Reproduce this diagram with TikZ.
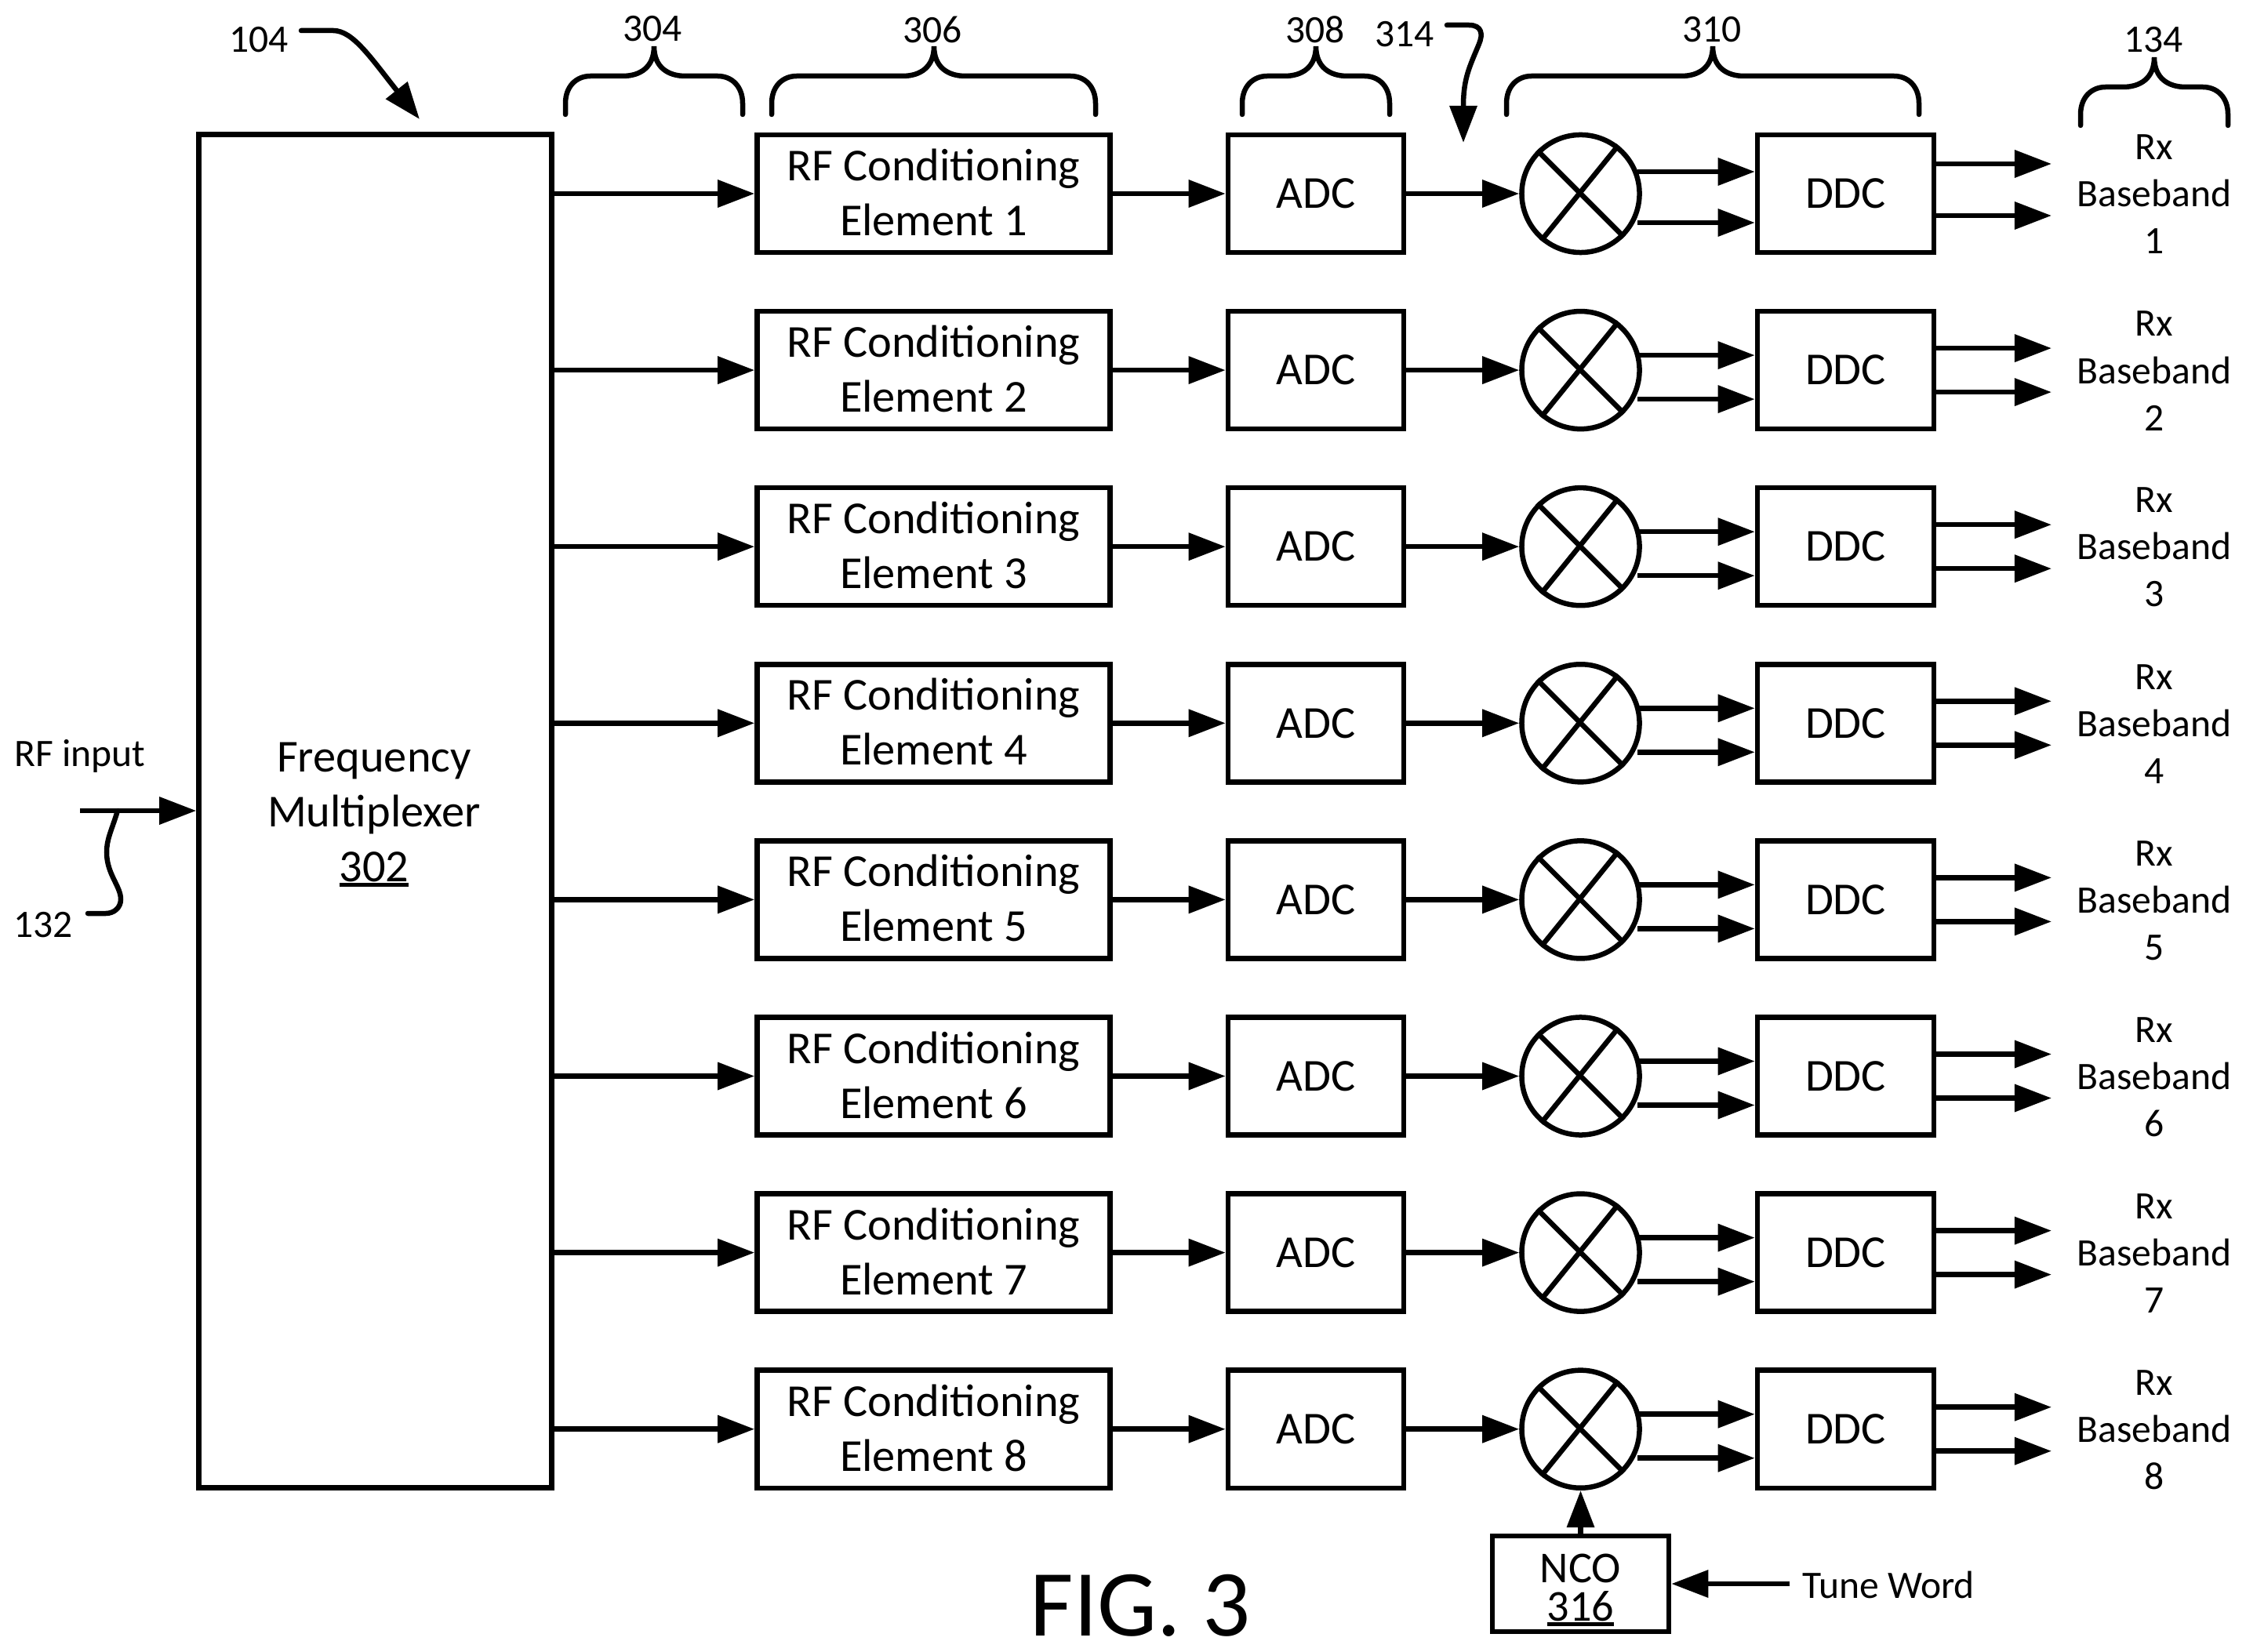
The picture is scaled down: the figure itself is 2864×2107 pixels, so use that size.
\documentclass[tikz,border=0pt]{standalone}
\usepackage{fontspec}
\usepackage{tikz}
\usetikzlibrary{arrows.meta}
\setmainfont{Carlito}

% one brace over a group of blocks: left end, middle, right end, bottom y
\newcommand{\topbrace}[4]{
    \draw[bracepath] (#1,#4) -- (#1,{#4-14}) .. controls (#1,{#4-36}) and ({#1+14},{#4-49}) .. ({#1+32},{#4-49})
        -- ({#2-40},{#4-49}) .. controls ({#2-18},{#4-49}) and (#2,{#4-60}) .. (#2,{#4-87})
        .. controls (#2,{#4-60}) and ({#2+18},{#4-49}) .. ({#2+40},{#4-49})
        -- ({#3-32},{#4-49}) .. controls ({#3-14},{#4-49}) and (#3,{#4-36}) .. (#3,{#4-14}) -- (#3,#4);
}

% reference number with a heavy rule under it
\newcommand{\refnum}[1]{\leavevmode\vtop{\hbox{#1}\kern0.4pt\hrule height 1.3pt}}

\tikzset{
    blockbox/.style={draw, line width=1.85pt, inner sep=0pt, align=center, minimum height=1.5cm},
    sig/.style={-{Triangle[length=13.4pt,width=9.7pt]}, line width=1.85pt},
    bracepath/.style={line width=1.85pt, line cap=round},
    bigtext/.style={font=\fontsize{16.6pt}{19.9pt}\selectfont},
    smalltext/.style={font=\fontsize{14.1pt}{17.07pt}\selectfont, inner sep=0pt, align=center}
}

\begin{document}
\begin{tikzpicture}[x=0.01cm,y=-0.01cm]

            \useasboundingbox (0,0) rectangle (2864,2107);

            % draw the multiplexer
            \node[blockbox,minimum width=4.5cm,minimum height=17.25cm] (mux) at (478.6,1034.5) {};
            \node[bigtext,inner sep=0pt,align=center] (muxtext) at (477,1039) {Frequency\\Multiplexer\\\refnum{302}};

            % draw the eight receive rows
            \foreach \i in {1,...,8} {
                \pgfmathsetmacro{\rowy}{247+225.1*(\i-1)}
                \pgfmathsetmacro{\mixup}{\i==1 ? 28 : 19}
                \pgfmathsetmacro{\outup}{\i==1 ? 38 : 28}

                \node[blockbox,bigtext,minimum width=4.5cm] (rf\i) at (1190.6,\rowy) {RF Conditioning\\Element \i\rule[-1pt]{0pt}{0pt}};
                \node[blockbox,bigtext,minimum width=2.24cm] (adc\i) at (1678,\rowy) {ADC};
                \node[draw,circle,line width=1.85pt,minimum size=1.5cm,inner sep=0pt] (mix\i) at (2015.5,\rowy) {};
                \node[blockbox,bigtext,minimum width=2.25cm] (ddc\i) at (2353.5,\rowy) {DDC};
                \node[smalltext] (rx\i) at (2747,\rowy+1) {Rx\\Baseband\\\i};

                % cross inside the mixer
                \draw[line width=1.85pt] (mix\i.135) -- (mix\i.-45);
                \draw[line width=1.85pt] (mix\i.52) -- (mix\i.230);

                % free ends of the paired arrows
                \coordinate (mixa\i) at (2088,\rowy-\mixup);
                \coordinate (mixb\i) at (2088,\rowy+37);
                \coordinate (outa\i) at (2616,\rowy-\outup);
                \coordinate (outb\i) at (2616,\rowy+28);

                % arrows along the row
                \draw[sig] (mux.east |- rf\i.west) -- (rf\i.west);
                \draw[sig] (rf\i.east) -- (adc\i.west);
                \draw[sig] (adc\i.east) -- (mix\i.west);
                \draw[sig] (mixa\i) -- (ddc\i.west |- mixa\i);
                \draw[sig] (mixb\i) -- (ddc\i.west |- mixb\i);
                \draw[sig] (ddc\i.east |- outa\i) -- (outa\i);
                \draw[sig] (ddc\i.east |- outb\i) -- (outb\i);
            }

            % draw the oscillator and its inputs
            \node[draw,line width=1.85pt,minimum width=2.25cm,minimum height=1.22cm] (nco) at (2015.5,2020) {};
            \node[inner sep=0pt,align=center,font=\fontsize{16pt}{13.95pt}\selectfont] (ncotext) at (2015.5,2028) {NCO\\\refnum{316}};
            \node[smalltext,anchor=base] (tune) at (2408,2038) {Tune Word};
            \coordinate (tunestart) at (2282,2020);
            \draw[sig] (nco.north) -- (mix8.south);
            \draw[sig] (tunestart) -- (nco.east);

            % draw the input
            \node[smalltext,anchor=base] (rfinput) at (102,977) {RF input};
            \coordinate (rfstart) at (102,1034);
            \draw[sig] (rfstart) -- (mux.west |- rfstart);

            %label 132 with its wavy lead
            \node[smalltext] (lbl132) at (55,1180) {132};
            \coordinate (wavetop) at (150,1034);
            \coordinate (waveend) at (112,1165);
            \draw[bracepath] (wavetop) .. controls (142,1060) and (136,1070) .. (136,1087) .. controls (136,1115) and (154,1130) .. (154,1147) .. controls (154,1158) and (145,1165) .. (135,1165) -- (waveend);

            %label 104 with its arrow
            \node[smalltext] (lbl104) at (330,51) {104};
            \coordinate (start104) at (384,39);
            \coordinate (tip104) at (535,152);
            \draw[sig,line cap=round] (start104) -- (425,39) .. controls (450,39) and (473,74) .. (tip104);

            %label 314 with its arrow
            \node[smalltext] (lbl314) at (1791,44) {314};
            \coordinate (start314) at (1845,32);
            \coordinate (tip314) at (1866,182);
            \draw[sig,line cap=round] (start314) -- (1873,32) .. controls (1890,32) and (1891,44) .. (1886,56) .. controls (1874,85) and (1866,100) .. (1866,135) -- (tip314);

            % draw the braces and their numbers
            \topbrace{721}{834}{947}{146}
            \topbrace{984}{1191}{1397}{146}
            \topbrace{1584}{1678}{1772}{146}
            \topbrace{1921}{2184}{2447}{146}
            \topbrace{2653}{2747}{2841}{160}
            \node[smalltext] (lbl304) at (832,37) {304};
            \node[smalltext] (lbl306) at (1189,38) {306};
            \node[smalltext] (lbl308) at (1677,38) {308};
            \node[smalltext] (lbl310) at (2183,38) {310};
            \node[smalltext] (lbl134) at (2746,51) {134};

            % figure title
            \node[anchor=base,inner sep=0pt,font=\fontsize{34.3pt}{40pt}\selectfont] (figtitle) at (1454,2086) {FIG. 3};

\end{tikzpicture}
\end{document}
